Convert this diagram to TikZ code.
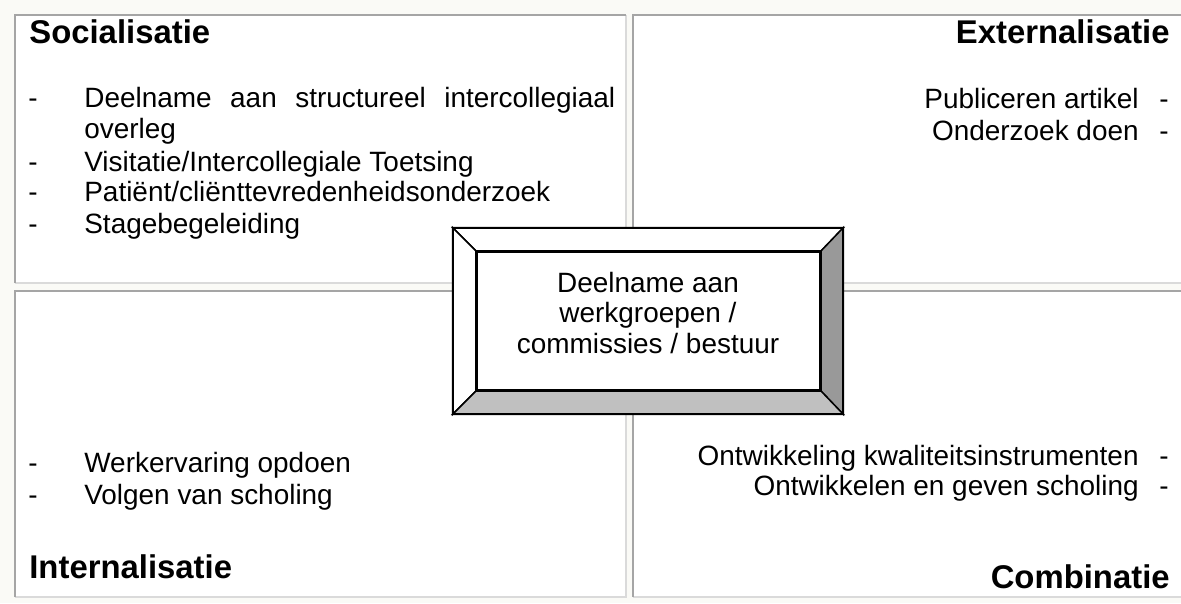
\documentclass[tikz,border=0pt]{standalone}
\usepackage{fontspec}
\setmainfont{Liberation Sans}
\hyphenpenalty=10000
\exhyphenpenalty=10000

\definecolor{achtergrond}{RGB}{250,250,246}
\definecolor{randdonker}{RGB}{165,165,165}
\definecolor{randlicht}{RGB}{218,218,218}
\definecolor{schaduw}{RGB}{153,153,153}
\definecolor{schaduwlicht}{RGB}{192,192,192}

\tikzset{
    kop/.style={font=\fontsize{18.7pt}{20pt}\selectfont\bfseries, inner sep=0pt},
    punt/.style={font=\fontsize{15.9pt}{18.1pt}\selectfont, inner sep=0pt},
    links/.style={punt, anchor=base west},
    rechts/.style={punt, anchor=base east},
    celdonker/.style={draw=randdonker, line width=0.04cm},
    cellicht/.style={draw=randlicht, line width=0.04cm},
    rand/.style={minimum width=7.8cm, minimum height=3.72cm, inner sep=0pt},
    kern/.style={minimum width=6.86cm, minimum height=2.76cm, inner sep=0pt},
    bevel/.style={draw=black, line width=0.03cm, line join=miter}
}

\begin{document}
\begin{tikzpicture}[x=0.02cm, y=-0.02cm]
    \useasboundingbox[fill=achtergrond] (0,0) rectangle (1181,603);

    % Vier cellen: boven/links donker, onder/rechts licht
    \foreach \xa/\xb/\ya/\yb in {15/626/15/283, 633/1186/15/283, 15/626/291/597, 633/1186/291/597} {
        \fill[white] (\xa,\ya) rectangle (\xb,\yb);
        \draw[cellicht]  (\xa,\yb) -- (\xb,\yb) -- (\xb,\ya);
        \draw[celdonker] (\xa,\yb) -- (\xa,\ya) -- (\xb,\ya);
    }

    % Socialisatie
    \node[kop, anchor=base west] (socialisatie) at (29,43) {Socialisatie};
    \node[links] (s1streep) at (28,107) {-};
    \node[links, text width=10.62cm, align=justify] (s1) at (84,107)
        {Deelname aan structureel intercollegiaal overleg};
    \node[links] (s2streep) at (28,171) {-};
    \node[links] (s2) at (84,171) {Visitatie/Intercollegiale Toetsing};
    \node[links] (s3streep) at (28,201) {-};
    \node[links] (s3) at (84,201) {Patiënt/cliënttevredenheidsonderzoek};
    \node[links] (s4streep) at (28,233) {-};
    \node[links] (s4) at (84,233) {Stagebegeleiding};

    % Externalisatie
    \node[kop, anchor=base east] (externalisatie) at (1170,43) {Externalisatie};
    \node[rechts] (e1) at (1139,108) {Publiceren artikel};
    \node[links] (e1streep) at (1159,108) {-};
    \node[rechts] (e2) at (1139,140) {Onderzoek doen};
    \node[links] (e2streep) at (1159,140) {-};

    % Internalisatie
    \node[links] (i1streep) at (28,472) {-};
    \node[links] (i1) at (84,472) {Werkervaring opdoen};
    \node[links] (i2streep) at (28,504) {-};
    \node[links] (i2) at (84,504) {Volgen van scholing};
    \node[kop, anchor=base west] (internalisatie) at (29,578) {Internalisatie};

    % Combinatie
    \node[rechts] (c1) at (1139,465) {Ontwikkeling kwaliteitsinstrumenten};
    \node[links] (c1streep) at (1159,465) {-};
    \node[rechts] (c2) at (1139,495) {Ontwikkelen en geven scholing};
    \node[links] (c2streep) at (1159,495) {-};
    \node[kop, anchor=base east] (combinatie) at (1170,588) {Combinatie};

    % Middenblok met schuine rand
    \node[rand] (buiten) at (648,321) {};
    \node[kern, fill=white, draw=black, line width=0.04cm] (binnen) at (648.5,321) {};
    \filldraw[bevel, fill=white] (buiten.north west) -- (buiten.north east) -- (binnen.north east) -- (binnen.north west) -- cycle;
    \filldraw[bevel, fill=white] (buiten.north west) -- (binnen.north west) -- (binnen.south west) -- (buiten.south west) -- cycle;
    \filldraw[bevel, fill=schaduw] (buiten.north east) -- (buiten.south east) -- (binnen.south east) -- (binnen.north east) -- cycle;
    \filldraw[bevel, fill=schaduwlicht] (buiten.south west) -- (binnen.south west) -- (binnen.south east) -- (buiten.south east) -- cycle;
    \draw[line width=0.04cm] (buiten.north west) rectangle (buiten.south east);
    \draw[line width=0.04cm] (binnen.north west) rectangle (binnen.south east);
    \node[punt, align=center, font=\fontsize{15.9pt}{17.3pt}\selectfont] (deelname) at (648,313)
        {Deelname aan\\werkgroepen /\\commissies / bestuur};
\end{tikzpicture}
\end{document}
